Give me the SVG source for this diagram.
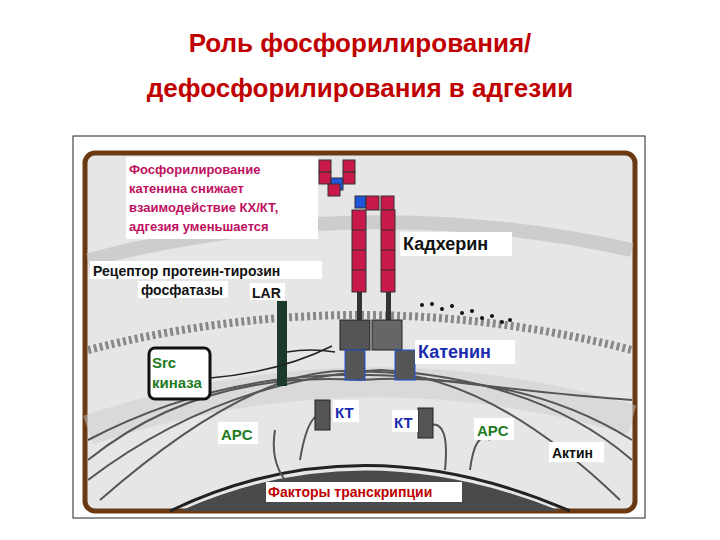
<svg xmlns="http://www.w3.org/2000/svg" width="720" height="540" viewBox="0 0 720 540">
<style>
.t{font-family:"Liberation Sans",Arial,sans-serif;font-weight:bold}
.blk{fill:#c8194a;stroke:#333;stroke-width:1}
.blu{fill:#1f55d8;stroke:#333;stroke-width:1}
.fil{fill:none;stroke:#555;stroke-width:2}
.lb{fill:#fff}
</style>
<rect width="720" height="540" fill="#fff"/>
<text class="t" x="360" y="52" text-anchor="middle" font-size="26" fill="#c00000">Роль фосфорилирования/</text>
<text class="t" x="360" y="97" text-anchor="middle" font-size="26" fill="#c00000">дефосфорилирования в адгезии</text>
<rect x="73" y="136" width="572" height="382" fill="#fff" stroke="#222" stroke-width="1"/>
<g id="scene">
<rect x="85" y="153" width="550" height="358" rx="10" fill="#e6e6e6" stroke="#6b3a12" stroke-width="5"/>
<path d="M88 260 Q360 190 632 250" fill="none" stroke="#bdbdbd" stroke-width="14" opacity="0.6"/>
<path d="M88 350 Q360 280 632 350" fill="none" stroke="#888" stroke-width="8" stroke-dasharray="3 3"/>
<path d="M88 430 Q360 340 632 420" fill="none" stroke="#ccc" stroke-width="30" opacity="0.5"/>
<path d="M180 511 Q360 430 560 511 Z" fill="#4a4a4a"/>
<path d="M170 511 Q360 420 570 511" fill="none" stroke="#222" stroke-width="3"/>
<g id="actin">
<path class="fil" d="M88 460 Q200 370 360 380 Q520 370 632 440"/>
<path class="fil" d="M88 480 Q220 380 380 370 Q540 380 632 460"/>
<path class="fil" d="M88 440 Q240 360 420 378 Q560 395 632 400"/>
<path class="fil" d="M100 500 Q260 360 360 372 Q480 365 620 500"/>
<path class="fil" d="M300 460 Q310 400 330 420"/>
<path class="fil" d="M445 470 Q450 420 430 425"/>
<path class="fil" d="M285 480 Q270 460 275 430"/>
<path class="fil" d="M470 470 Q475 430 490 440"/>
</g>
</g>
<g id="cadherin">
<rect class="blk" x="319" y="160" width="12" height="12"/><rect class="blk" x="343" y="160" width="12" height="12"/>
<rect class="blk" x="319" y="172" width="12" height="12"/><rect class="blu" x="331" y="178" width="12" height="12"/><rect class="blk" x="343" y="172" width="12" height="12"/>
<rect class="blk" x="328" y="184" width="12" height="12"/>
<rect class="blu" x="355" y="196" width="11" height="12"/><rect class="blk" x="366" y="196" width="13" height="14"/><rect class="blk" x="381" y="196" width="13" height="14"/>
<rect class="blk" x="352" y="210" width="14" height="82"/><rect class="blk" x="381" y="210" width="14" height="82"/>
<path d="M352 230H366M352 250H366M352 270H366M381 230H395M381 250H395M381 270H395" stroke="#333"/>
<rect x="357" y="292" width="5" height="30" fill="#333"/><rect x="386" y="292" width="5" height="30" fill="#333"/>
<rect class="lb" x="400" y="232" width="112" height="24"/>
<text class="t" x="403" y="250" font-size="18" fill="#111">Кадхерин</text>
</g>
<g id="catenin">
<rect x="340" y="320" width="30" height="30" fill="#555" stroke="#222"/>
<rect x="372" y="320" width="30" height="30" fill="#666" stroke="#222"/>
<rect x="345" y="350" width="20" height="30" fill="#555" stroke="#1f55d8"/>
<rect x="395" y="350" width="20" height="30" fill="#555" stroke="#1f55d8"/>
<rect class="lb" x="415" y="340" width="100" height="24"/>
<text class="t" x="418" y="358" font-size="18" fill="#1a2bb0">Катенин</text>
</g>
<g id="dots" fill="#111">
<circle cx="422" cy="305" r="2"/><circle cx="432" cy="304" r="2"/><circle cx="442" cy="309" r="2"/><circle cx="452" cy="306" r="2"/><circle cx="462" cy="313" r="2"/><circle cx="472" cy="311" r="2"/><circle cx="482" cy="318" r="2"/><circle cx="492" cy="316" r="2"/><circle cx="502" cy="322" r="2"/><circle cx="510" cy="320" r="2"/>
</g>
<g id="lar">
<rect x="277" y="301" width="10" height="85" fill="#1b3a2c"/>
<path d="M287 352 Q310 348 335 352" fill="none" stroke="#222" stroke-width="1.5"/>
<rect class="lb" x="90" y="261" width="232" height="18"/>
<text class="t" x="93" y="276" font-size="14" fill="#111">Рецептор протеин-тирозин</text>
<rect class="lb" x="138" y="281" width="90" height="17"/>
<text class="t" x="141" y="295" font-size="14" fill="#111">фосфатазы</text>
<rect class="lb" x="250" y="283" width="35" height="17"/>
<text class="t" x="252" y="298" font-size="14" fill="#111">LAR</text>
</g>
<g id="src">
<rect x="149" y="348" width="61" height="51" rx="6" fill="#fff" stroke="#111" stroke-width="3"/>
<text class="t" x="152" y="368" font-size="15" fill="#1e7a1e">Src</text>
<text class="t" x="152" y="388" font-size="15" fill="#1e7a1e">киназа</text>
<path d="M210 378 Q280 372 332 346" fill="none" stroke="#222" stroke-width="1.5"/>
</g>
<g id="kt">
<rect x="315" y="400" width="15" height="30" fill="#555" stroke="#222"/>
<rect class="lb" x="333" y="400" width="26" height="22"/>
<text class="t" x="335" y="418" font-size="15" fill="#1a2bb0">КТ</text>
<rect x="418" y="408" width="15" height="30" fill="#555" stroke="#222"/>
<rect class="lb" x="392" y="410" width="26" height="22"/>
<text class="t" x="394" y="428" font-size="15" fill="#1a2bb0">КТ</text>
</g>
<g id="labels">
<rect class="lb" x="218" y="422" width="40" height="22"/>
<text class="t" x="221" y="440" font-size="15" fill="#1e7a1e">APC</text>
<rect class="lb" x="474" y="418" width="40" height="22"/>
<text class="t" x="477" y="436" font-size="15" fill="#1e7a1e">APC</text>
<rect class="lb" x="549" y="442" width="55" height="20"/>
<text class="t" x="552" y="458" font-size="14" fill="#111">Актин</text>
<rect class="lb" x="266" y="482" width="196" height="20"/>
<text class="t" x="268" y="497" font-size="14" fill="#c00000">Факторы транскрипции</text>
<rect class="lb" x="126" y="157" width="192" height="82"/>
<text class="t" font-size="13" fill="#c01060"><tspan x="129" y="174">Фосфорилирование</tspan><tspan x="129" y="193">катенина снижает</tspan><tspan x="129" y="212">взаимодействие КХ/КТ,</tspan><tspan x="129" y="231">адгезия уменьшается</tspan></text>
</g>
</svg>
